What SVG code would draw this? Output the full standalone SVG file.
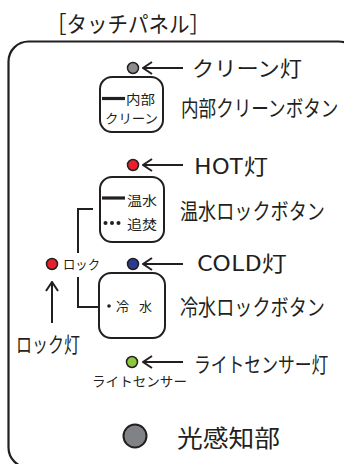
<svg xmlns="http://www.w3.org/2000/svg" width="344" height="464" viewBox="0 0 344 464">
<style>
text{font-family:"Noto Sans CJK JP","Noto Sans",sans-serif;fill:#231f20}
.big{font-size:21px}
.sm{font-size:13px}
.btn{fill:#fff;stroke:#231f20;stroke-width:2}
.led{stroke:#231f20;stroke-width:1.5}
.ln{fill:none;stroke:#231f20;stroke-width:2}
</style>
<defs>
<marker id="ah" viewBox="0 0 12 14" refX="11" refY="7" markerWidth="12" markerHeight="14" markerUnits="userSpaceOnUse" orient="auto">
<path d="M2,1 L11,7 L2,13" fill="none" stroke="#231f20" stroke-width="2"/>
</marker>
</defs>
<text id="title" x="46" y="32" style="font-size:22px" textLength="164" lengthAdjust="spacingAndGlyphs">［タッチパネル］</text>
<g id="panel"><rect x="8.5" y="41.5" width="350" height="426" rx="20" fill="none" stroke="#231f20" stroke-width="2.2"/></g>

<g id="clean-led"><circle class="led" cx="133" cy="68" r="5.5" fill="#8c8c8c"/></g>
<g id="clean-led-label"><text class="big" x="192" y="76" textLength="110" lengthAdjust="spacingAndGlyphs">クリーン灯</text></g>
<g id="clean-button">
<rect class="btn" x="100" y="77" width="63" height="55" rx="12"/>
<line x1="102" y1="98.5" x2="125" y2="98.5" stroke="#231f20" stroke-width="3.2"/>
<text class="sm" x="126" y="104" textLength="29" lengthAdjust="spacingAndGlyphs">内部</text>
<text class="sm" x="105" y="123" textLength="53" lengthAdjust="spacingAndGlyphs">クリーン</text>
</g>
<g id="clean-button-label"><text transform="translate(181,116) scale(0.8,1)" style="font-size:22px">内部クリーンボタン</text></g>

<g id="hot-led"><circle class="led" cx="133" cy="165" r="5.5" fill="#e8202a"/></g>
<g id="hot-led-label"><text class="big" x="194" y="174" textLength="74" lengthAdjust="spacingAndGlyphs">HOT灯</text></g>
<g id="hot-button">
<rect class="btn" x="100" y="177" width="64" height="65" rx="12"/>
<line x1="102" y1="198" x2="125" y2="198" stroke="#231f20" stroke-width="3.2"/>
<text class="sm" x="127" y="204.5" textLength="30" lengthAdjust="spacingAndGlyphs">温水</text>
<circle cx="105.5" cy="223" r="2" fill="#231f20"/>
<circle cx="112" cy="223" r="2" fill="#231f20"/>
<circle cx="118.5" cy="223" r="2" fill="#231f20"/>
<text class="sm" x="127" y="228.5" textLength="30" lengthAdjust="spacingAndGlyphs">追焚</text>
</g>
<g id="hot-button-label"><text transform="translate(180,219) scale(0.824,1)" style="font-size:22px">温水ロックボタン</text></g>

<g id="lock-led"><circle class="led" cx="52" cy="264" r="5.5" fill="#e8202a"/>
<text class="sm" x="63" y="269" textLength="37" lengthAdjust="spacingAndGlyphs">ロック</text></g>
<g id="lock-led-label"><text class="big" x="16" y="352" textLength="64" lengthAdjust="spacingAndGlyphs">ロック灯</text></g>

<g id="cold-led"><circle class="led" cx="133" cy="264" r="5.5" fill="#2b3990"/></g>
<g id="cold-led-label"><text class="big" x="197" y="271" textLength="90" lengthAdjust="spacingAndGlyphs">COLD灯</text></g>
<g id="cold-button">
<rect class="btn" x="99" y="273" width="66" height="65" rx="12"/>
<circle cx="109" cy="306" r="1.8" fill="#231f20"/>
<text class="sm" x="116" y="311" textLength="36" lengthAdjust="spacing">冷水</text>
</g>
<g id="cold-button-label"><text transform="translate(180,315) scale(0.824,1)" style="font-size:22px">冷水ロックボタン</text></g>

<g id="sensor-led"><circle class="led" cx="132" cy="362" r="5.5" fill="#8dc63f"/>
<text class="sm" x="92" y="386" textLength="95" lengthAdjust="spacingAndGlyphs">ライトセンサー</text></g>
<g id="sensor-led-label"><text transform="translate(194,372) scale(0.8,1)" class="big">ライトセンサー灯</text></g>

<g id="photo-sensor"><circle cx="135" cy="436" r="11.5" fill="#808285" stroke="#231f20" stroke-width="2"/></g>
<g id="photo-sensor-label"><text x="177" y="447" style="font-size:24px" textLength="103" lengthAdjust="spacingAndGlyphs">光感知部</text></g>

<g id="connectors">
<line class="ln" x1="183" y1="68" x2="143" y2="68" marker-end="url(#ah)"/>
<line class="ln" x1="183" y1="165" x2="143" y2="165" marker-end="url(#ah)"/>
<line class="ln" x1="183" y1="264" x2="143" y2="264" marker-end="url(#ah)"/>
<line class="ln" x1="183" y1="362" x2="143" y2="362" marker-end="url(#ah)"/>
<line class="ln" x1="52" y1="323" x2="52" y2="282" marker-end="url(#ah)"/>
<polyline class="ln" points="93,209 78,209 78,253"/>
<polyline class="ln" points="78,277 78,307 98,307"/>
</g>
</svg>
